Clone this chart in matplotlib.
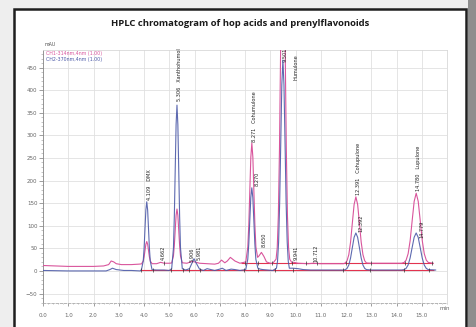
import matplotlib
matplotlib.use('Agg')
import matplotlib.pyplot as plt
from matplotlib.patches import Rectangle
from matplotlib.ticker import MultipleLocator, FixedLocator

# ---------------- data ----------------
ch1_time = [0.0, 0.5, 1.0, 1.5, 2.0, 2.4, 2.6, 2.7, 2.8, 2.9, 3.1, 3.5, 3.8,
            3.90, 3.97, 4.004, 4.039, 4.074, 4.109, 4.144, 4.179, 4.214, 4.249, 4.32,
            4.5, 4.66, 4.8, 5.0,
            5.096, 5.166, 5.201, 5.236, 5.271, 5.306, 5.341, 5.376, 5.411, 5.446, 5.516,
            5.7, 5.9, 6.0, 6.2, 6.5, 6.8, 6.95, 7.07, 7.2, 7.3, 7.42, 7.6, 7.8,
            8.031, 8.111, 8.151, 8.191, 8.231, 8.271, 8.311, 8.351, 8.391, 8.431, 8.50,
            8.55, 8.65, 8.75, 8.85, 9.0, 9.1,
            9.231, 9.276, 9.321, 9.366, 9.411, 9.456, 9.501, 9.546, 9.591, 9.636, 9.681, 9.726, 9.771,
            9.85, 9.94, 10.1, 10.5, 10.71, 11.0, 11.5, 11.9,
            11.971, 12.041, 12.111, 12.181, 12.251, 12.321, 12.391, 12.461, 12.531, 12.601, 12.671, 12.741, 12.811,
            13.0, 13.5, 14.0, 14.2,
            14.30, 14.38, 14.46, 14.54, 14.62, 14.70, 14.78, 14.86, 14.94, 15.02, 15.10, 15.18, 15.26, 15.45]
ch1_mau = [12, 11, 10, 10, 10, 11, 14, 22, 20, 16, 14, 14, 15,
           15.5, 22, 31, 45, 59, 65, 59, 45, 31, 22, 16,
           16, 19, 17, 17,
           17.5, 33, 56, 90, 123, 137, 123, 90, 56, 33, 18,
           17, 21, 20, 17, 16, 15, 17, 24, 18, 22, 30, 22, 17,
           20, 53, 103, 178, 252, 283, 252, 178, 103, 53, 30,
           33, 41, 32, 20, 17, 17,
           26, 51, 123, 271, 492, 708, 800, 708, 492, 271, 123, 51, 26,
           19, 19, 17, 16, 17, 16, 16, 16,
           17.6, 22.5, 36, 64, 106, 147, 164, 147, 106, 64, 36, 22.5, 17.6,
           17, 17, 17, 17,
           18.7, 23.8, 38, 67, 111, 154, 172, 154, 111, 67, 38, 23.8, 18.7, 17]

ch2_time = [0.0, 1.0, 2.0, 2.5, 2.65, 2.75, 2.9, 3.2, 3.5, 3.85,
            3.899, 3.969, 4.004, 4.039, 4.074, 4.109, 4.144, 4.179, 4.214, 4.249, 4.319,
            4.5, 4.8, 5.0,
            5.096, 5.166, 5.201, 5.236, 5.271, 5.306, 5.341, 5.376, 5.411, 5.446, 5.516,
            5.65, 5.8, 5.906, 5.981, 6.06, 6.2, 6.35, 6.5, 6.65, 6.8, 7.0, 7.1, 7.25, 7.45, 7.6, 7.8,
            8.03, 8.11, 8.15, 8.19, 8.23, 8.27, 8.31, 8.35, 8.39, 8.43, 8.51, 8.6, 8.7, 8.9, 9.1,
            9.246, 9.288, 9.331, 9.373, 9.416, 9.458, 9.501, 9.543, 9.586, 9.628, 9.671, 9.713, 9.756,
            9.9, 10.1, 10.3, 10.6, 11.0, 11.5, 11.9,
            11.971, 12.041, 12.111, 12.181, 12.251, 12.321, 12.391, 12.461, 12.531, 12.601, 12.671, 12.741, 12.811,
            13.0, 13.5, 14.0, 14.2,
            14.299, 14.379, 14.459, 14.539, 14.619, 14.699, 14.779, 14.859, 14.939, 15.019, 15.099, 15.179, 15.259, 15.55]
ch2_mau = [1, 0, 0, 0, 3, 6, 3, 1, 1, 0,
           2.7, 21.6, 50, 93, 135, 153, 135, 93, 50, 21.6, 2.7,
           2, 2, 1,
           5, 50.5, 120, 223, 324, 367, 324, 223, 120, 50.5, 5,
           2, 5, 18, 27, 18, 4, 1, 5, 3, 1, 4, 6, 1, 4, 3, 1,
           3, 25.8, 60, 112, 162.5, 184, 162.5, 112, 60, 25.8, 6, 4, 3, 2, 1,
           6, 21.5, 64, 152, 283.6, 412, 467, 412, 283.6, 152, 64, 21.5, 6,
           6, 5, 3, 2, 2, 2, 2,
           2.9, 5.6, 13, 28.6, 51.7, 74.4, 84, 74.4, 51.7, 28.6, 13, 5.6, 2.9,
           2, 2, 2, 2,
           2.9, 5.6, 13, 28.6, 51.7, 74.4, 84, 74.4, 51.7, 28.6, 13, 5.6, 2.9, 2]

# integration baselines: (start, end, level)
baseline_start = [3.85, 7.85]
baseline_end = [15.5, 15.45]
baseline_level = [1, 17]
# integration boundary marks
mark_time = [3.9, 4.35, 5.05, 5.55, 5.8, 6.2, 7.95, 8.5, 9.2, 9.9, 11.9, 12.95, 14.3, 15.3,
             4.8, 8.0, 8.5, 9.05, 9.85, 10.4, 10.85, 12.0, 13.0, 14.35, 15.4]
mark_level = [1, 1, 1, 1, 1, 1, 1, 1, 1, 1, 1, 1, 1, 1,
              17, 17, 17, 17, 17, 17, 17, 17, 17, 17, 17]

# peak annotations: retention time, label text, anchor value (mAU)
label_time = [4.109, 4.662, 5.306, 5.906, 5.981, 8.271, 8.270, 8.650, 9.941, 10.712,
              12.391, 12.392, 14.780, 14.779]
label_text = ['4.109   DMX', '4.662', '5.306   Xanthohumol', '5.906', '5.981',
              '8.271   Cohumulone', '8.270', '8.650', '9.941', '10.712',
              '12.391   Cohupulone', '12.392', '14.780   Lupulone', '14.779']
label_value = [157, 24, 376, 20, 24, 286, 188, 53, 24, 20, 168, 86, 176, 72]
label_shift = [0.1, 0.1, 0.1, -0.02, 0.2, 0.1, 0.22, 0.1, 0.1, 0.1, 0.1, 0.22, 0.1, 0.22]

x_ticks = [0, 1, 2, 3, 4, 5, 6, 7, 8, 9, 10, 11, 12, 13, 14, 15]
x_ticklabels = ['0.0', '1.0', '2.0', '3.0', '4.0', '5.0', '6.0', '7.0', '8.0', '9.0',
                '10.0', '11.0', '12.0', '13.0', '14.0', '15.0']
y_ticks = [-50, 0, 50, 100, 150, 200, 250, 300, 350, 400, 450]
legend_labels = ['CH1-314nm,4nm (1.00)', 'CH2-370nm,4nm (1.00)']
title = 'HPLC chromatogram of hop acids and prenylflavonoids'

# ---------------- figure ----------------
W, H = 476, 327
fig = plt.figure(figsize=(W / 100, H / 100), dpi=100)
fig.patch.set_facecolor('#eeeeee')
fig.add_artist(Rectangle((468 / W, 0), 8 / W, 1, transform=fig.transFigure,
                         facecolor='#8e8e8e', edgecolor='none', zorder=-3))
fig.add_artist(Rectangle((14 / W, -0.05), (466 - 14) / W, 1.05 - 9 / H,
                         transform=fig.transFigure, facecolor='white',
                         edgecolor='#1e1e1e', linewidth=1.8, zorder=-2))

fig.text(240 / W, 1 - 23 / H, title, ha='center', va='center',
         fontsize=6.8, fontweight='bold', family='Open Sans', color='#1a1a1a')

ax = fig.add_axes([43 / W, 1 - 303 / H, (447 - 43) / W, (303 - 50) / H])
ax.set_facecolor('white')

PINK = '#d9559c'
BLUE = '#4c5aa8'
RED = '#e2334f'

ax.plot(ch1_time, ch1_mau, color=PINK, lw=0.8, zorder=3)
ax.plot(ch2_time, ch2_mau, color=BLUE, lw=0.8, alpha=0.9, zorder=4)
ax.hlines(baseline_level, baseline_start, baseline_end, color=RED, lw=0.8, zorder=2)
ax.plot(mark_time, mark_level, linestyle='none', marker='|', markersize=2.5,
        color='#333333', mew=0.5, zorder=5)

for t, txt, v, dx in zip(label_time, label_text, label_value, label_shift):
    ax.text(t + dx, v, txt, rotation=90, ha='center', va='bottom',
            fontsize=3.6, color='#222222', zorder=6)
ax.text(9.501 + 0.1, 462, '9.501', rotation=90, ha='center', va='bottom',
        fontsize=3.6, color='#222222')
ax.text(9.501 + 0.5, 423, 'Humulone', rotation=90, ha='center', va='bottom',
        fontsize=3.6, color='#222222')

ax.text(0.1, 481, legend_labels[0], fontsize=3.4, color=PINK, va='center', ha='left')
ax.text(0.1, 469, legend_labels[1], fontsize=3.4, color=BLUE, va='center', ha='left')
ax.text(0.05, 496, 'mAU', fontsize=3.4, color='#555555', va='bottom', ha='left',
        clip_on=False)

ax.set_xlim(0, 16)
ax.set_ylim(-71, 489)
ax.xaxis.set_major_locator(FixedLocator(x_ticks))
ax.set_xticklabels(x_ticklabels)
ax.xaxis.set_minor_locator(MultipleLocator(0.2))
ax.yaxis.set_major_locator(FixedLocator(y_ticks))
ax.yaxis.set_minor_locator(MultipleLocator(10))
ax.text(15.9, -78, 'min', fontsize=4, color='#666666', ha='center', va='top')

ax.grid(True, which='major', color='#e0e0e0', lw=0.6)
ax.set_axisbelow(True)
for s in ['top', 'right']:
    ax.spines[s].set_color('#d8d8d8')
    ax.spines[s].set_linewidth(0.6)
ax.spines['left'].set_color('#888888')
ax.spines['left'].set_linewidth(0.6)
ax.spines['bottom'].set_color('#aaaaaa')
ax.spines['bottom'].set_linewidth(0.6)
ax.spines['bottom'].set_linestyle((0, (3, 2)))

ax.tick_params(axis='both', which='major', labelsize=4, colors='#777777',
               labelcolor='#666666', width=0.5)
ax.tick_params(axis='y', which='major', length=3, pad=1)
ax.tick_params(axis='y', which='minor', length=1.5, width=0.4, colors='#999999')
ax.tick_params(axis='x', which='major', length=2, pad=5)
ax.tick_params(axis='x', which='minor', length=1, width=0.4, colors='#999999')

fig.savefig('out.png', dpi=100, facecolor=fig.get_facecolor())
